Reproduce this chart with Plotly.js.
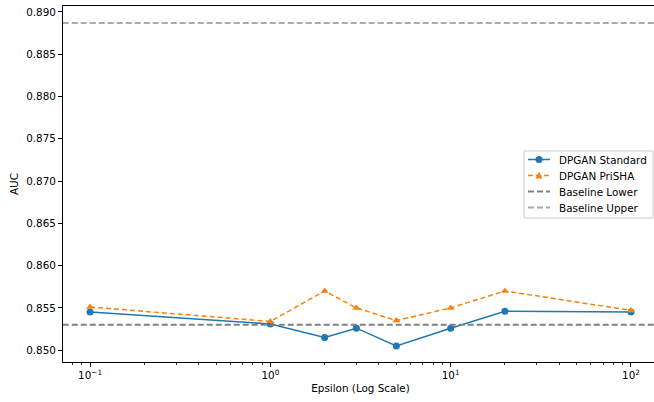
<!DOCTYPE html>
<html>
<head>
<meta charset="utf-8">
<script src="https://cdn.plot.ly/plotly-3.0.1.min.js"></script>
<style>
html,body{margin:0;padding:0;overflow:hidden;width:654px;height:402px;background:#fff;}
#chart{width:660px;height:402px;}
</style>
</head>
<body>
<div id="chart"></div>
<script>
const epsilon = [0.1, 1, 2, 3, 5, 10, 20, 100];
const dpganStandard = [0.8545, 0.8531, 0.8515, 0.8526, 0.8505, 0.8526, 0.8546, 0.8545];
const dpganPrisha = [0.8551, 0.8534, 0.8570, 0.8550, 0.8535, 0.8550, 0.8570, 0.8547];
const baselineLower = 0.8530;
const baselineUpper = 0.8887;
const baselineX = [0.01, 1000];
const xTickVals = [0.1, 1, 10, 100];
const xTickText = ['10<sup>\u22121</sup>', '10<sup>0</sup>', '10<sup>1</sup>', '10<sup>2</sup>'];
const seriesNames = ['DPGAN Standard', 'DPGAN PriSHA', 'Baseline Lower', 'Baseline Upper'];

const minorTicks = [];
[0.01, 0.1, 1, 10, 100].forEach(d => { for (let k = 2; k <= 9; k++) minorTicks.push(d * k); });

const font = {family: 'DejaVu Sans, sans-serif', size: 10.4, color: '#000'};
const blue = '#1f77b4', orange = '#ff7f0e', gray1 = '#808080', gray2 = '#aaaaaa';

const traces = [
  {x: epsilon, y: dpganStandard, name: seriesNames[0], type: 'scatter', mode: 'lines+markers',
   line: {color: blue, width: 1.5}, marker: {symbol: 'circle', size: 7, color: blue}},
  {x: epsilon, y: dpganPrisha, name: seriesNames[1], type: 'scatter', mode: 'lines+markers',
   line: {color: orange, width: 1.5, dash: '5px,3px'}, marker: {symbol: 'triangle-up', size: 7, color: orange}},
  {x: baselineX, y: [baselineLower, baselineLower], name: seriesNames[2], type: 'scatter', mode: 'lines',
   line: {color: gray1, width: 2, dash: '6px,3px'}},
  {x: baselineX, y: [baselineUpper, baselineUpper], name: seriesNames[3], type: 'scatter', mode: 'lines',
   line: {color: gray2, width: 2, dash: '6px,3px'}}
];

// plot area geometry (pixels) for a custom matplotlib-like legend
const W = 660, H = 402, mL = 63, mR = 2, mT = 6, mB = 40;
const pw = W - mL - mR, ph = H - mT - mB;
const px = x => (x - mL) / pw;
const py = y => (H - mB - y) / ph;

const shapes = [];
const annotations = [];
shapes.push({type: 'rect', xref: 'paper', yref: 'paper', x0: px(524), x1: px(653), y0: py(151), y1: py(218),
  line: {color: '#cccccc', width: 1}, fillcolor: 'rgba(255,255,255,0.85)', layer: 'above'});
const rowY = [159.5, 175.5, 191.5, 207.5];
const styles = [
  {color: blue, dash: 'solid', width: 1.5, marker: 'circle'},
  {color: orange, dash: '5px,3px', width: 1.5, marker: 'triangle'},
  {color: gray1, dash: '6px,3px', width: 2},
  {color: gray2, dash: '6px,3px', width: 2}
];
seriesNames.forEach((name, i) => {
  const y = rowY[i], s = styles[i];
  shapes.push({type: 'line', xref: 'paper', yref: 'paper', x0: px(528), x1: px(550), y0: py(y), y1: py(y),
    line: {color: s.color, width: s.width, dash: s.dash}, layer: 'above'});
  if (s.marker === 'circle') {
    shapes.push({type: 'circle', xref: 'paper', yref: 'paper', x0: px(535.5), x1: px(542.5), y0: py(y + 3.5), y1: py(y - 3.5),
      line: {color: s.color, width: 0}, fillcolor: s.color, layer: 'above'});
  } else if (s.marker === 'triangle') {
    shapes.push({type: 'path', xref: 'paper', yref: 'paper',
      path: `M ${px(535.5)} ${py(y + 3)} L ${px(542.5)} ${py(y + 3)} L ${px(539)} ${py(y - 4)} Z`,
      line: {color: s.color, width: 0}, fillcolor: s.color, layer: 'above'});
  }
  annotations.push({xref: 'paper', yref: 'paper', x: px(557), y: py(y), xanchor: 'left', yanchor: 'middle',
    text: name, showarrow: false, font: font});
});

const layout = {
  width: W, height: H,
  margin: {l: mL, r: mR, t: mT, b: mB},
  paper_bgcolor: '#fff', plot_bgcolor: '#fff',
  font: font,
  showlegend: false,
  shapes: shapes,
  annotations: annotations,
  xaxis: {
    type: 'log', range: [-1.15, 2.15], tickmode: 'array', tickvals: xTickVals, ticktext: xTickText,
    showgrid: false, zeroline: false, showline: true, linecolor: '#000', linewidth: 1, mirror: true,
    ticks: 'outside', ticklen: 4, tickwidth: 1, tickcolor: '#000', tickfont: font,
    minor: {tickmode: 'array', tickvals: minorTicks, ticks: 'outside', ticklen: 2, tickwidth: 0.8, tickcolor: '#000', showgrid: false},
    title: {text: 'Epsilon (Log Scale)', font: font, standoff: 4}
  },
  yaxis: {
    range: [0.8486, 0.8907], dtick: 0.005, tickformat: '.3f',
    showgrid: false, zeroline: false, showline: true, linecolor: '#000', linewidth: 1, mirror: true,
    ticks: 'outside', ticklen: 4, tickwidth: 1, tickcolor: '#000', tickfont: font,
    title: {text: 'AUC', font: font, standoff: 5}
  }
};

Plotly.newPlot('chart', traces, layout, {staticPlot: true, displayModeBar: false});
</script>
</body>
</html>
